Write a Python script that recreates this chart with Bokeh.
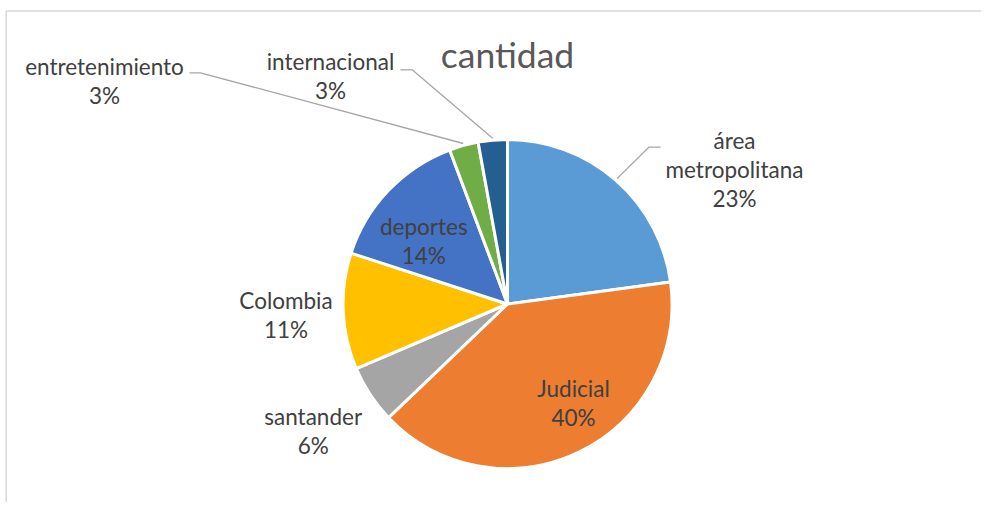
import math
from bokeh.plotting import figure
from bokeh.models import Range1d, ColumnDataSource
from bokeh.core.properties import value
from bokeh.embed import file_html
from bokeh.resources import INLINE

# ---- data ----
categories = ["área metropolitana", "Judicial", "santander", "Colombia",
              "deportes", "entretenimiento", "internacional"]
counts = [8, 14, 2, 4, 5, 1, 1]
colors = ["#5B9BD5", "#ED7D31", "#A5A5A5", "#FFC000", "#4472C4", "#70AD47", "#255E91"]
title_text = "cantidad"

# ---- layout (image pixel space: x right, y down) ----
W, H = 981, 502
CX, CY, R = 507, 303.5, 164.5
FONT = "Lato"
LABEL_PX = 22.5
TITLE_PX = 35.5
BASELINE_FIX = 0.36  # renderer places alphabetic baseline lower; compensate (em)
LINE_H = 29
TEXT_COLOR = "#404040"
# label anchor: (dx, dy) of first-line baseline centre relative to pie centre
label_pos = {
    "área metropolitana": (227, -155.2),
    "Judicial": (66, 93),
    "santander": (-194.3, 120.5),
    "Colombia": (-221.5, 4.8),
    "deportes": (-83.7, -69.7),
    "entretenimiento": (-403, -229.5),
    "internacional": (-177, -234),
}
# leader lines: (label-edge point, elbow point) relative to pie centre
leaders = {
    "entretenimiento": ((-318, -231.2), (-307, -231.2)),
    "internacional": ((-107, -234.2), (-95.3, -234.2)),
    "área metropolitana": ((153, -156.8), (141.3, -156.8)),
}
wrap = {"área metropolitana": "área\nmetropolitana"}

IMG_H = 518


def yy(iy):
    return IMG_H - iy


p = figure(width=W, height=H, x_range=Range1d(0, W), y_range=Range1d(IMG_H - H, IMG_H),
           output_backend="svg", toolbar_location=None, min_border=0,
           outline_line_color=None, background_fill_color="white")
p.axis.visible = False
p.grid.visible = False

# chart border (top and left edges visible)
p.line([5.7, 5.7], [-10, yy(10.5)], line_color="#D9D9D9", line_width=1.5)
p.line([5.7, 1100], [yy(10.5), yy(10.5)], line_color="#D9D9D9", line_width=1.5)

total = sum(counts)
cum = 0
starts, ends, mids = [], [], []
for c in counts:
    a0 = cum / total * 2 * math.pi
    cum += c
    a1 = cum / total * 2 * math.pi
    starts.append(math.pi / 2 - a0)
    ends.append(math.pi / 2 - a1)
    mids.append((a0 + a1) / 2)

src = ColumnDataSource(dict(start=starts, end=ends, color=colors, cat=categories))
p.wedge(x=CX, y=yy(CY), radius=R, start_angle="start", end_angle="end", direction="clock",
        fill_color="color", line_color="white", line_width=3, source=src)

# leader lines
for cat, mid in zip(categories, mids):
    if cat in leaders:
        (ex, ey), (bx, by) = leaders[cat]
        px = CX + (R + 2) * math.sin(mid)
        py = CY - (R + 2) * math.cos(mid)
        xs = [CX + ex, CX + bx, px]
        ys = [yy(CY + ey), yy(CY + by), yy(py)]
        p.line(xs, ys, line_color="#A6A6A6", line_width=1.3)

# labels
tx, ty, tt = [], [], []
for cat, c in zip(categories, counts):
    pct = f"{round(c / total * 100)}%"
    lines = wrap.get(cat, cat).split("\n") + [pct]
    dx, dy = label_pos[cat]
    for i, ln in enumerate(lines):
        tx.append(CX + dx)
        ty.append(yy(CY + dy + i * LINE_H - BASELINE_FIX * LABEL_PX))
        tt.append(ln)
p.text(x=tx, y=ty, text=tt, text_font=value(FONT), text_font_size=f"{LABEL_PX}px",
       text_color=TEXT_COLOR, text_align="center", text_baseline="alphabetic")

# title
p.text(x=[CX], y=[yy(66.5 - BASELINE_FIX * TITLE_PX)], text=[title_text], text_font=value(FONT),
       text_font_size=f"{TITLE_PX}px", text_color="#595959", text_align="center",
       text_baseline="alphabetic")

open("out.html", "w").write(file_html(p, INLINE))
